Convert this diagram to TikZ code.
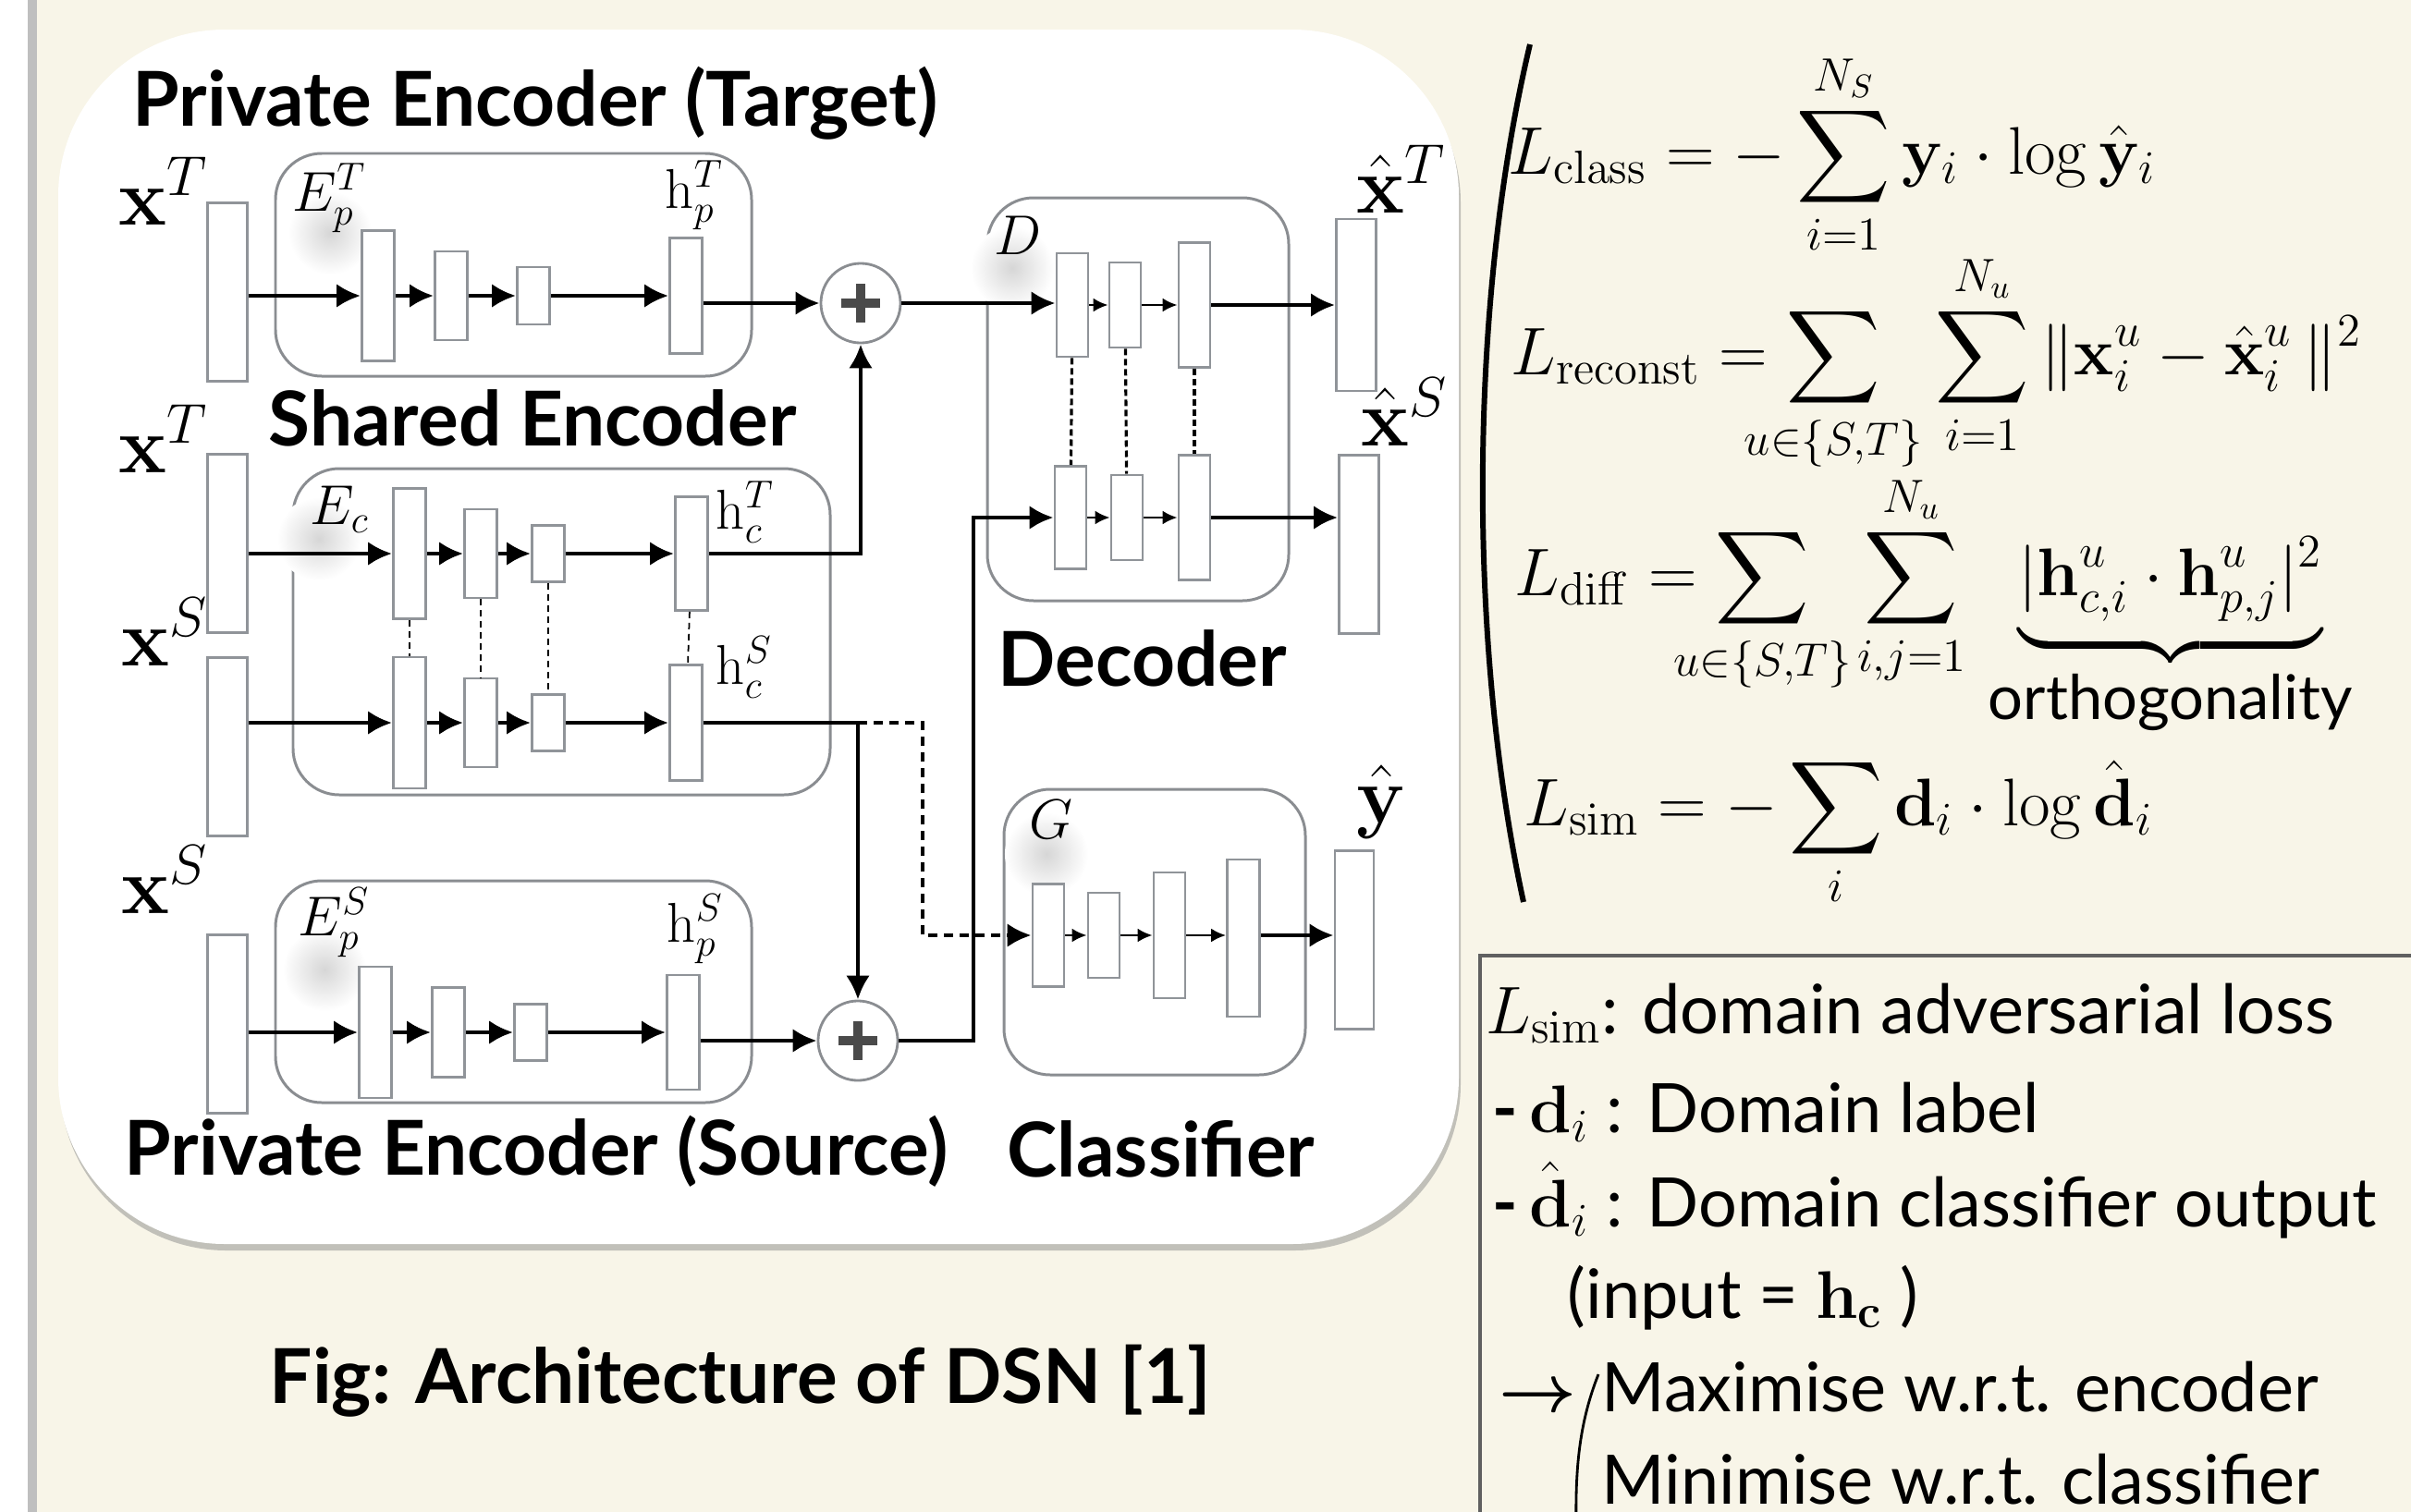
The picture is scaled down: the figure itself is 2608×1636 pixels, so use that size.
\documentclass[tikz,border=0pt]{standalone}
\usepackage{amsmath,amssymb,mathtools}
\usepackage[no-math]{fontspec}
\setmainfont{Lato}
\usetikzlibrary{arrows.meta,shadows}
\definecolor{cream}{HTML}{F8F5E8}
\definecolor{bargray}{HTML}{909499}
\definecolor{boxgray}{HTML}{8A8D91}
\definecolor{plusgray}{HTML}{4A4A4A}
\definecolor{framegray}{HTML}{606060}

\begin{document}
\begin{tikzpicture}[
  x=0.01cm, y=-0.01cm,
  bar/.style={draw=bargray, fill=white, line width=0.8pt, inner sep=0pt, minimum width=0.35cm},
  iobar/.style={bar, minimum width=0.43cm, minimum height=1.93cm},
  grp/.style={draw=boxgray, line width=0.85pt, rounded corners=0.5cm},
  addnode/.style={circle, draw=boxgray, fill=white, line width=0.8pt, minimum size=0.86cm, inner sep=0pt},
  plusmark/.style={draw=plusgray, line width=0.1cm},
  arr/.style={-{Latex[length=0.26cm, width=0.26cm]}, line width=1.4pt},
  sarr/.style={-{Latex[length=0.16cm, width=0.15cm]}, line width=0.8pt},
  darr/.style={arr, dash pattern=on 0.1cm off 0.07cm},
  tie/.style={line width=0.5pt, dash pattern=on 0.07cm off 0.05cm},
  dtie/.style={line width=0.9pt, dash pattern=on 0.07cm off 0.04cm},
  ttl/.style={font=\fontsize{23.3}{27}\selectfont\bfseries, anchor=base west, inner sep=0pt},
  vec/.style={font=\fontsize{25}{30}\selectfont, anchor=base west, inner sep=0pt},
  sym/.style={font=\fontsize{18}{22}\selectfont, anchor=base west, inner sep=0pt},
  eqn/.style={font=\fontsize{20}{24}\selectfont, anchor=base west, inner sep=0pt},
  note/.style={font=\fontsize{21}{25}\selectfont, anchor=base west, inner sep=0pt},
  glow/.style={inner color=black!16, outer color=white}
]
\useasboundingbox (0,0) rectangle (2608,1636);
\fill[cream] (0,0) rectangle (2608,1636);
\fill[white] (0,0) rectangle (33,1636);
\draw[black!25, line width=0.1cm] (35,0) -- (35,1636);

\fill[white, rounded corners=1.8cm, drop shadow={shadow xshift=0.02cm, shadow yshift=-0.07cm, fill=black!45}]
  (63,32) rectangle (1578,1346);

\draw[grp] (298,166) rectangle (813,407);
\draw[grp] (317,507) rectangle (898,860);
\draw[grp] (298,953) rectangle (813,1193);
\draw[grp] (1068,214) rectangle (1394,650);
\draw[grp] (1086,854) rectangle (1412,1163);

\shade[glow] (357,252) circle (0.45cm);
\shade[glow] (345,583) circle (0.45cm);
\shade[glow] (351,1049) circle (0.45cm);
\shade[glow] (1095,290) circle (0.45cm);
\shade[glow] (1132,924) circle (0.45cm);

\node[iobar] (in1) at (246,316) {};
\node[iobar] (in2) at (246,588) {};
\node[iobar] (in3) at (246,808) {};
\node[iobar] (in4) at (246,1108) {};

\node[bar, minimum height=1.41cm] (pa) at (409,320) {};
\node[bar, minimum height=0.96cm] (pb) at (488,320) {};
\node[bar, minimum height=0.62cm] (pc) at (577,320) {};
\node[bar, minimum height=1.25cm] (hpT) at (742,320) {};

\node[bar, minimum height=1.41cm] (e1) at (443,599) {};
\node[bar, minimum height=0.96cm] (e2) at (520,599) {};
\node[bar, minimum height=0.61cm] (e3) at (593,599) {};
\node[bar, minimum height=1.23cm] (hcT) at (748,599) {};

\node[bar, minimum height=1.42cm] (f1) at (443,782) {};
\node[bar, minimum height=0.96cm] (f2) at (520,782) {};
\node[bar, minimum height=0.61cm] (f3) at (593,782) {};
\node[bar, minimum height=1.25cm] (hcS) at (742,782) {};

\node[bar, minimum height=1.42cm] (qa) at (406,1117) {};
\node[bar, minimum height=0.97cm] (qb) at (485,1117) {};
\node[bar, minimum height=0.61cm] (qc) at (574,1117) {};
\node[bar, minimum height=1.24cm] (hpS) at (739,1117) {};

\node[addnode] (p1) at (931,328) {};
\node[addnode] (p2) at (928,1126) {};
\draw[plusmark] (p1) +(-21,0) -- +(21,0) +(0,-21) -- +(0,21);
\draw[plusmark] (p2) +(-21,0) -- +(21,0) +(0,-21) -- +(0,21);

\node[bar, minimum width=0.34cm, minimum height=1.12cm] (d1) at (1160,330) {};
\node[bar, minimum width=0.34cm, minimum height=0.92cm] (d2) at (1217,330) {};
\node[bar, minimum width=0.34cm, minimum height=1.35cm] (d3) at (1292,330) {};
\node[bar, minimum width=0.34cm, minimum height=1.11cm] (d4) at (1158,560) {};
\node[bar, minimum width=0.34cm, minimum height=0.92cm] (d5) at (1219,560) {};
\node[bar, minimum width=0.34cm, minimum height=1.35cm] (d6) at (1292,560) {};
\node[iobar, minimum height=1.86cm] (xhT) at (1467,330) {};
\node[iobar] (xhS) at (1470,589) {};

\node[bar, minimum width=0.34cm, minimum height=1.11cm] (c1) at (1134,1012) {};
\node[bar, minimum width=0.34cm, minimum height=0.92cm] (c2) at (1194,1012) {};
\node[bar, minimum width=0.34cm, minimum height=1.36cm] (c3) at (1265,1012) {};
\node[bar, minimum width=0.35cm, minimum height=1.70cm] (c4) at (1345,1015) {};
\node[iobar, minimum width=0.42cm] (ybar) at (1465,1017) {};

\draw[tie] (e1) -- (f1);
\draw[tie] (e2) -- (f2);
\draw[tie] (e3) -- (f3);
\draw[tie] (hcT) -- (hcS);
\draw[dtie] (d1) -- (d4);
\draw[dtie] (d2) -- (d5);
\draw[dtie] (d3) -- (d6);

\draw[arr] (in1.east |- pa) -- (pa.west);
\draw[arr] (pa) -- (pb);
\draw[arr] (pb) -- (pc);
\draw[arr] (pc) -- (hpT);
\draw[arr] (hpT.east |- p1) -- (p1.west);

\draw[arr] (in2.east |- e1) -- (e1.west);
\draw[arr] (e1) -- (e2);
\draw[arr] (e2) -- (e3);
\draw[arr] (e3) -- (hcT);
\draw[arr] (hcT.east) -| (p1.south);

\draw[arr] (in3.east |- f1) -- (f1.west);
\draw[arr] (f1) -- (f2);
\draw[arr] (f2) -- (f3);
\draw[arr] (f3) -- (hcS);
\draw[arr] (hcS.east) -| (p2.north);

\draw[arr] (in4.east |- qa) -- (qa.west);
\draw[arr] (qa) -- (qb);
\draw[arr] (qb) -- (qc);
\draw[arr] (qc) -- (hpS);
\draw[arr] (hpS.east |- p2) -- (p2.west);

\coordinate (lift) at (1053,560);
\coordinate (fork) at (p2 |- hcS);
\coordinate (drop) at (998,782);
\draw[arr] (p1.east) -- (p1.east -| d1.west);
\draw[arr] (p2.east) -| (lift) -- (d4.west);
\draw[darr] (fork) -- (drop) |- (c1.west);

\draw[sarr] (d1) -- (d2);
\draw[sarr] (d2) -- (d3);
\draw[arr] (d3) -- (xhT);
\draw[sarr] (d4) -- (d5);
\draw[sarr] (d5) -- (d6);
\draw[arr] (d6.east) -- (d6.east -| xhS.west);

\draw[sarr] (c1) -- (c2);
\draw[sarr] (c2) -- (c3);
\draw[sarr] (c3) -- (c4.west |- c3);
\draw[arr] (c4.east |- c3) -- (ybar.west |- c3);

\node[ttl] (tgt) at (143,136) {Private Encoder (Target)};
\node[ttl] (shr) at (290,482) {Shared Encoder};
\node[ttl] (src) at (134,1271) {Private Encoder (Source)};
\node[ttl] (dec) at (1079,742) {Decoder};
\node[ttl] (cls) at (1089,1273) {Classifier};
\node[ttl] (cap) at (291,1518) {Fig: Architecture of DSN [1]};

\node[vec] (xT1) at (128,243) {$\mathbf{x}^T$};
\node[vec] (xT2) at (128,511) {$\mathbf{x}^T$};
\node[vec] (xS1) at (131,720) {$\mathbf{x}^S$};
\node[vec] (xS2) at (131,988) {$\mathbf{x}^S$};
\node[vec] (xhTl) at (1467,230) {$\hat{\mathbf{x}}^T$};
\node[vec] (xhSl) at (1472,482) {$\hat{\mathbf{x}}^S$};
\node[vec] (yhl) at (1467,890) {$\hat{\mathbf{y}}$};

\node[sym] (EpT) at (316,228) {$E_p^T$};
\node[sym] (hpTl) at (719,225) {$\mathrm{h}_p^T$};
\node[sym] (Ecl) at (335,567) {$E_c$};
\node[sym] (hcTl) at (774,572) {$\mathrm{h}_c^T$};
\node[sym] (hcSl) at (774,740) {$\mathrm{h}_c^S$};
\node[sym] (EpS) at (322,1012) {$E_p^S$};
\node[sym] (hpSl) at (721,1019) {$\mathrm{h}_p^S$};
\node[sym] (Dl) at (1075,275) {$D$};
\node[sym] (Gl) at (1113,907) {$G$};

\draw[line width=1.7pt] (1655,48) .. controls (1588,330) and (1588,700) .. (1648,976);
\node[eqn] (lclass) at (1631,188)
  {$\displaystyle L_{\mathrm{class}} = -\sum_{i=1}^{N_S} \mathbf{y}_i \cdot \log \hat{\mathbf{y}}_i$};
\node[eqn] (lrec) at (1634,405)
  {$\displaystyle L_{\mathrm{reconst}} = \sum_{\mathclap{u\in\{S,T\}}}\enskip\, \sum_{i=1}^{N_u} \|\mathbf{x}_i^u - \hat{\mathbf{x}}_i^u\,\|^2$};
\node[eqn] (ldiff) at (1638,644)
  {$\displaystyle L_{\mathrm{diff}} = \sum_{\mathclap{u\in\{S,T\}}}\enskip\, \sum_{\mathclap{i,j=1}}^{N_u} \; \underbrace{|\mathbf{h}_{c,i}^u \cdot \mathbf{h}_{p,j}^u|^2}_{\mbox{\fontsize{19}{22}\selectfont orthogonality}}$};
\node[eqn] (lsim) at (1648,893)
  {$\displaystyle L_{\mathrm{sim}} = -\sum_{i} \mathbf{d}_i \cdot \log \hat{\mathbf{d}}_i$};

\draw[framegray, line width=1.4pt] (2608,1034) -- (1601,1034) -- (1601,1636);
\node[note] (simtxt) at (1607,1118) {$L_{\mathrm{sim}}$: domain adversarial loss};
\node[note] (dtxt) at (1614,1225) {\textbf{-}\,$\mathbf{d}_i$ : Domain label};
\node[note] (dhtxt) at (1614,1327) {\textbf{-}\,$\hat{\mathbf{d}}_i$ : Domain classifier output};
\node[note] (intxt) at (1695,1426) {(input = $\mathbf{h_c}$ )};
\node[note] (arrtxt) at (1621,1527) {$\boldsymbol{\rightarrow}$};
\node[note] (maxtxt) at (1732,1527) {Maximise w.r.t. encoder};
\node[note] (mintxt) at (1732,1627) {Minimise w.r.t. classifier};
\draw[line width=0.8pt] (1729,1487) .. controls (1708,1540) and (1704,1590) .. (1705,1650);
\end{tikzpicture}
\end{document}
